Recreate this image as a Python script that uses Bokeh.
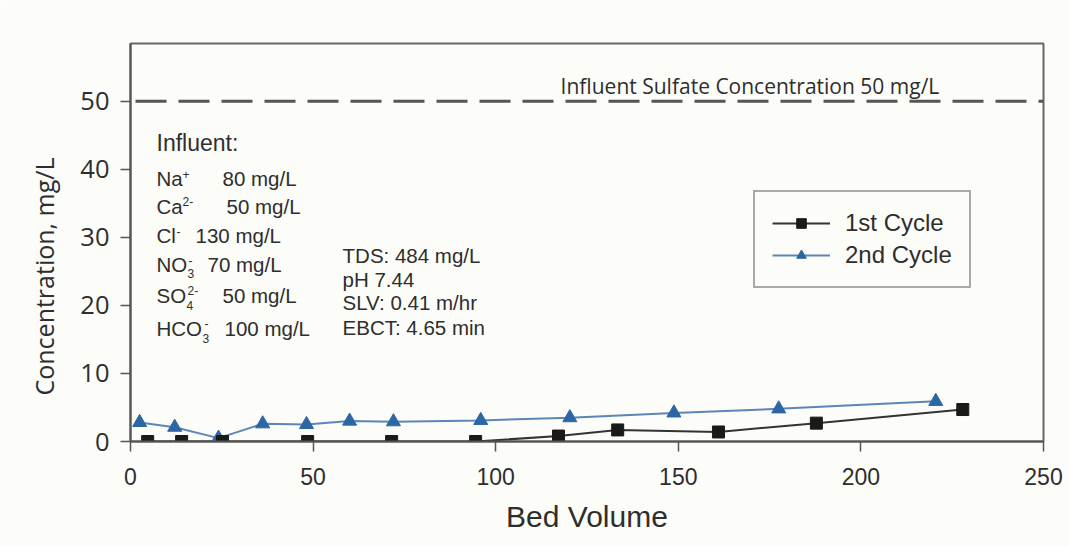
from bokeh.plotting import figure
from bokeh.models import Range1d, FixedTicker, Label, Legend, LegendItem, Title
from bokeh.embed import file_html
from bokeh.resources import INLINE

# ---- data ----
bv_cycle1 = [4.7, 14.0, 25.2, 48.5, 71.5, 94.5, 117.2, 133.4, 161.0, 187.8, 227.9]
conc_cycle1 = [0, 0, 0, 0, 0, 0, 0.8, 1.7, 1.4, 2.7, 4.7]
bv_cycle2 = [2.5, 12.1, 24.1, 36.2, 48.2, 60.0, 72.0, 95.9, 120.3, 148.8, 177.5, 220.5]
conc_cycle2 = [2.8, 2.1, 0.5, 2.6, 2.5, 3.0, 2.9, 3.1, 3.5, 4.2, 4.8, 5.9]
influent_sulfate = 50
x_ticks = [0, 50, 100, 150, 200, 250]
y_ticks = [0, 10, 20, 30, 40, 50]
series_names = ["1st Cycle", "2nd Cycle"]

BG = "#fcfcf9"
AX = "#555555"
TXT = "#2e2e2e"

p = figure(width=1069, height=546, output_backend="svg", toolbar_location=None,
           x_range=Range1d(0, 250), y_range=Range1d(0, 58.5),
           min_border_left=130, min_border_right=26, min_border_top=43, min_border_bottom=105)
p.background_fill_color = BG
p.border_fill_color = BG
p.outline_line_color = "#666666"
p.outline_line_width = 2
p.xgrid.visible = False
p.ygrid.visible = False

for ax in (p.xaxis[0], p.yaxis[0]):
    ax.axis_line_color = AX
    ax.axis_line_width = 2
    ax.major_tick_line_color = AX
    ax.major_tick_line_width = 1.5
    ax.major_tick_out = 10
    ax.major_tick_in = 0
    ax.minor_tick_line_color = None
    ax.major_label_text_color = TXT
    ax.axis_label_text_color = TXT
    ax.axis_label_text_font_style = "normal"

p.xaxis.ticker = FixedTicker(ticks=x_ticks)
p.yaxis.ticker = FixedTicker(ticks=y_ticks)
p.xaxis.major_label_text_font = "Liberation Sans"
p.xaxis.major_label_text_font_size = "23px"
p.xaxis.major_label_standoff = 16
p.xaxis.axis_label = "Bed Volume"
p.xaxis.axis_label_text_font = "Liberation Sans"
p.xaxis.axis_label_text_font_size = "30px"
p.xaxis.axis_label_standoff = 12

p.yaxis.major_label_text_font = "Open Sans"
p.yaxis.major_label_text_font_size = "25.5px"
p.yaxis.major_label_standoff = 11

# y axis title: sits below the frame centre in the reference, so use a side Title
ytitle = Title(text="Concentration, mg/L", align="left", offset=46,
               text_font="Open Sans", text_font_size="25px", text_font_style="normal",
               text_color=TXT, standoff=33)
p.add_layout(ytitle, "left")

# influent sulfate dashed line
p.line([x_ticks[0], x_ticks[-1]], [influent_sulfate, influent_sulfate],
       line_color="#555555", line_width=3, line_dash="31 12", line_dash_offset=-5)

l1 = p.line(bv_cycle1, conc_cycle1, line_color="#333333", line_width=2)
l2 = p.line(bv_cycle2, conc_cycle2, line_color="#5b86b6", line_width=2)
s2 = p.scatter(bv_cycle2, conc_cycle2, marker="triangle", size=14,
               fill_color="#2c67a4", line_color="#2c67a4")
s1 = p.scatter(bv_cycle1, conc_cycle1, marker="square", size=12,
               fill_color="#1a1a1a", line_color="#1a1a1a")

legend = Legend(items=[LegendItem(label=series_names[0], renderers=[l1, s1]),
                       LegendItem(label=series_names[1], renderers=[l2, s2])],
                location=(623, 153), orientation="vertical")
legend.border_line_color = "#555555"
legend.border_line_width = 2
legend.background_fill_color = BG
legend.background_fill_alpha = 1
legend.label_text_font = "Liberation Sans"
legend.label_text_font_size = "24px"
legend.label_text_color = TXT
legend.glyph_width = 58
legend.glyph_height = 24
legend.label_height = 24
legend.label_width = 105
legend.label_standoff = 15
legend.padding = 17
legend.spacing = 4
legend.margin = 0
p.add_layout(legend)


def px_x(px):
    return (px - 130) / 3.651


def px_y(py):
    return (441 - py) / 6.806


def lab(text, px, py, size, font="Liberation Sans", color=TXT):
    # py is the wanted alphabetic baseline in page pixels
    p.add_layout(Label(x=px_x(px), y=px_y(py - 0.4 * size), text=text, text_font=font,
                       text_font_size=f"{size}px", text_color=color,
                       text_baseline="alphabetic", text_align="left"))


lab("Influent Sulfate Concentration  50 mg/L", 560, 93.5, 21, font="Open Sans")

# influent block
lab("Influent:", 156, 152, 23)
main = 20.5
sup = 12
lab("Na", 156, 186.5, main); lab("+", 182, 179, sup); lab("80 mg/L", 222, 186.5, main)
lab("Ca", 156, 214, main); lab("2-", 182, 206, sup); lab("50 mg/L", 226, 214, main)
lab("Cl", 156, 243, main); lab("-", 176, 236, sup); lab("130 mg/L", 195, 243, main)
lab("NO", 156, 272, main); lab("3", 187, 278, sup); lab("-", 188, 265, sup); lab("70 mg/L", 207, 272, main)
lab("SO", 156, 303, main); lab("4", 186, 310, sup); lab("2-", 187, 295, sup); lab("50 mg/L", 222, 303, main)
lab("HCO", 156, 336, main); lab("3", 202, 343, sup); lab("-", 204, 328, sup); lab("100 mg/L", 224, 336, main)

lab("TDS: 484 mg/L", 342, 263, main)
lab("pH 7.44", 342, 287, main)
lab("SLV: 0.41 m/hr", 342, 310.5, main)
lab("EBCT: 4.65 min", 342, 335, main)

open("out.html", "w").write(file_html(p, INLINE))
